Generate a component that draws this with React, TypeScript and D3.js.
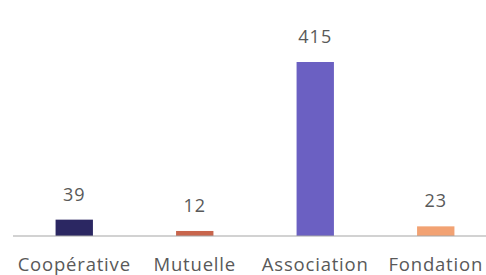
import React from "react";
import * as d3 from "d3";

// chart data
const categories = ["Coopérative", "Mutuelle", "Association", "Fondation"];
const counts = [39, 12, 415, 23];
const colors = ["#2b2762", "#c8654c", "#6b60c2", "#f2a273"];

const width = 486;
const height = 275;

export default function App() {
  //band scale for the categories, linear scale for the counts
  const x = d3
    .scaleBand<string>()
    .domain(categories)
    .range([14, 496])
    .paddingInner(0.69)
    .paddingOuter(0.345);

  const y = d3
    .scaleLinear()
    .domain([0, d3.max(counts) as number])
    .range([236, 62]);

  const font = "'Open Sans', 'Liberation Sans', sans-serif";

  return (
    <svg
      width={width}
      height={height}
      style={{ position: "absolute", left: 0, top: 0, background: "#fff" }}
    >
      {/*bars*/}
      {categories.map((c, i) => (
        <rect
          key={c}
          x={x(c)}
          y={y(counts[i])}
          width={x.bandwidth()}
          height={y(0) - y(counts[i])}
          fill={colors[i]}
        />
      ))}

      {/*value labels*/}
      {categories.map((c, i) => (
        <text
          key={c + "-v"}
          x={(x(c) as number) + x.bandwidth() / 2}
          y={y(counts[i]) - 19}
          textAnchor="middle"
          fontFamily={font}
          fontSize={18}
          letterSpacing={1}
          fill="#595959"
        >
          {counts[i]}
        </text>
      ))}

      {/*axis line*/}
      <line x1={13} x2={width} y1={y(0)} y2={y(0)} stroke="#a6a6a6" strokeWidth={1.2} />

      {/*category labels*/}
      {categories.map((c) => (
        <text
          key={c + "-l"}
          x={(x(c) as number) + x.bandwidth() / 2}
          y={270.5}
          textAnchor="middle"
          fontFamily={font}
          fontSize={18.5}
          letterSpacing={0.8}
          fill="#595959"
        >
          {c}
        </text>
      ))}
    </svg>
  );
}
